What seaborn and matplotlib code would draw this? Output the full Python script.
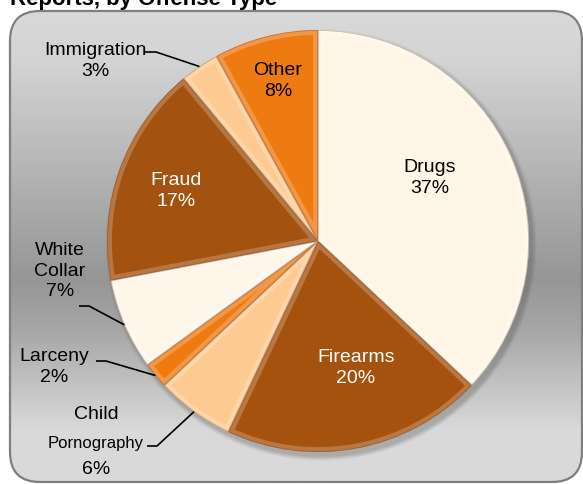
import numpy as np
import matplotlib
matplotlib.use("Agg")
import matplotlib.pyplot as plt
from matplotlib.patches import FancyBboxPatch, Wedge
import seaborn as sns

# Share of reports by offense type (percent), clockwise from 12 o'clock
offenses = ["Drugs", "Firearms", "Child Pornography", "Larceny",
            "White Collar", "Fraud", "Immigration", "Other"]
shares = [37, 20, 6, 2, 7, 17, 3, 8]
slice_colors = ["#FEF5E7", "#A5520F", "#FDCA91", "#EF7A12",
                "#FFF6EA", "#A4520F", "#FCCA92", "#EE7A12"]
title = "Reports, by Offense Type"

sns.set_theme(style="white")
plt.rcParams["font.family"] = ["Liberation Sans Narrow", "Liberation Sans", "DejaVu Sans"]
plt.rcParams["text.color"] = "black"

W, H = 583, 485
fig = plt.figure(figsize=(W / 100, H / 100), dpi=100)
ax = fig.add_axes([0, 0, 1, 1])


def fy(y):
    """Convert a top-down pixel row into the axes' bottom-up coordinate."""
    return H - y


# Rounded panel with a vertical grey gradient
panel = FancyBboxPatch((10, fy(483)), 572, 471,
                       boxstyle="round,pad=0,rounding_size=30",
                       facecolor="none", edgecolor="#7f7f7f", lw=1.6, zorder=2)
ax.add_patch(panel)
rows = np.arange(12, 484)
knots_y = [12, 60, 280, 330, 430, 484]
knots_v = [217, 212, 150, 166, 217, 217]
grey = np.interp(rows, knots_y, knots_v) / 255.0
grad = np.repeat(grey[:, None], 2, axis=1)
img = np.dstack([grad, grad, grad])
im = ax.imshow(img, extent=(10, 582, fy(483), fy(12)), aspect="auto",
               interpolation="bilinear", zorder=1)
im.set_clip_path(panel)

cx, cy, R = 318, fy(242), 211

# Soft drop shadow beneath the pie
for k, a in zip(range(6, 0, -1), [0.04, 0.05, 0.06, 0.07, 0.08, 0.09]):
    ax.add_patch(plt.Circle((cx + 3, cy - 4), R + k * 0.8, color="#555555",
                            alpha=a, lw=0, zorder=3))

wedges, _ = ax.pie(shares, colors=sns.color_palette(slice_colors),
                   startangle=90, counterclock=False,
                   center=(cx, cy), radius=R,
                   wedgeprops=dict(linewidth=0, zorder=4))

# Bevel-like highlight and rim on every slice
for w in wedges:
    w.set_zorder(4)
    hl = Wedge(w.center, w.r, w.theta1, w.theta2, facecolor="none",
               edgecolor="white", lw=7, alpha=0.22, zorder=5)
    ax.add_patch(hl)
    hl.set_clip_path(w)
    rim = Wedge(w.center, w.r, w.theta1, w.theta2, facecolor="none",
                edgecolor="#5a2a05", lw=1.2, alpha=0.3, zorder=5)
    ax.add_patch(rim)
    rim.set_clip_path(w)

ax.set_xlim(0, W)
ax.set_ylim(0, H)
ax.set_aspect("equal")
ax.axis("off")

fs = 14
# Labels inside the slices
inside = {"Drugs": (430, 178, "black"), "Firearms": (356, 368, "white"),
          "Fraud": (176, 191, "white"), "Other": (278, 81, "black")}
for name, v in zip(offenses, shares):
    if name in inside:
        x, y, c = inside[name]
        ax.text(x, fy(y), f"{name}\n{v}%", ha="center", va="center",
                fontsize=fs, color=c, linespacing=1.25, zorder=6)

# Labels outside the pie with leader lines
outside = {"Immigration": ((95, 61), (145, 53), (156, 53)),
           "White Collar": ((60, 271), (79, 307), (89, 307)),
           "Larceny": ((54, 367), (96, 362), (106, 362)),
           "Child Pornography": (None, (147, 447), (157, 447))}
cum = np.cumsum([0] + shares)
for i, (name, v) in enumerate(zip(offenses, shares)):
    if name not in outside:
        continue
    pos, p0, p1 = outside[name]
    mid = 90 - (cum[i] + v / 2) / sum(shares) * 360
    ex = cx + R * np.cos(np.radians(mid))
    ey = cy + R * np.sin(np.radians(mid))
    ax.plot([p0[0], p1[0], ex], [fy(p0[1]), fy(p1[1]), ey],
            color="black", lw=1.2, zorder=6, solid_capstyle="butt")
    if name == "White Collar":
        ax.text(pos[0], fy(pos[1]), f"White\nCollar\n{v}%", ha="center",
                va="center", fontsize=fs, linespacing=1.25, zorder=6)
    elif name == "Child Pornography":
        ax.text(96, fy(415), "Child", ha="center", va="center", fontsize=fs, zorder=6)
        ax.text(96, fy(444), "Pornography", ha="center", va="center",
                fontsize=12, zorder=6)
        ax.text(96, fy(470), f"{v}%", ha="center", va="center", fontsize=fs, zorder=6)
    else:
        ax.text(pos[0], fy(pos[1]), f"{name}\n{v}%", ha="center", va="center",
                fontsize=fs, linespacing=1.25, zorder=6)

ax.text(10, fy(5), title, ha="left", va="baseline", fontsize=16,
        fontweight="bold", family=["Liberation Sans", "DejaVu Sans"], zorder=6)

fig.savefig("out.png", dpi=100)
